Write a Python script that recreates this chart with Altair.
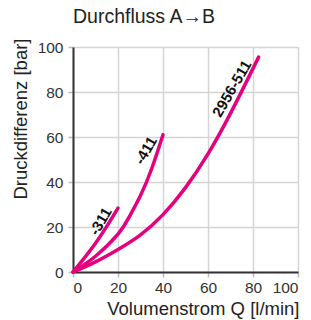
import altair as alt
import pandas as pd

# Series data
s311_x = [0, 5, 10, 15, 20]
s311_y = [0, 6.2, 12.8, 20.3, 28.4]
s411_x = [0, 10, 20, 25, 30, 35, 40]
s411_y = [0, 7, 16.8, 24.5, 34, 46, 61]
s2956_x = [0, 10, 20, 30, 40, 50, 60, 70, 82.5]
s2956_y = [0, 4.5, 10, 16.5, 25.5, 37.5, 52.5, 70.5, 95.5]

label_text = ["-311", "-411", "2956-511"]
label_x = [12.2, 32.3, 70.6]
label_y = [22.5, 54.0, 81.5]

ticks = [0, 20, 40, 60, 80, 100]

rows = []
for name, xs, ys in [("-311", s311_x, s311_y), ("-411", s411_x, s411_y), ("2956-511", s2956_x, s2956_y)]:
    for i, (xv, yv) in enumerate(zip(xs, ys)):
        rows.append({"series": name, "q": xv, "p": yv, "order": i})
df = pd.DataFrame(rows)
labels = pd.DataFrame({"text": label_text, "q": label_x, "p": label_y})

FONT = "Liberation Sans"
MAGENTA = "#E6007E"

xscale = alt.Scale(domain=[0, 100], nice=False)
yscale = alt.Scale(domain=[0, 100], nice=False)

xaxis = alt.Axis(values=ticks, title="Volumenstrom Q [l/min]", titleFontSize=18.5,
                 titleFont=FONT, titleFontWeight="normal", titleColor="#222",
                 titleAlign="right", titleAnchor="end", titleX=226, titleY=42,
                 titleBaseline="alphabetic",
                 labelFont=FONT, labelFontSize=15.5, labelColor="#333", labelPadding=3,
                 tickSize=5, tickColor="#bbb", tickWidth=1.5,
                 domainColor="#333", domainWidth=2,
                 gridColor="#d4d4d4", gridWidth=1.5)
yaxis = alt.Axis(values=ticks, title="Druckdifferenz [bar]", titleFontSize=18.5,
                 titleFont=FONT, titleFontWeight="normal", titleColor="#222",
                 titleAngle=270, titleAlign="right", titleX=-53, titleY=-9,
                 titleBaseline="middle",
                 labelFont=FONT, labelFontSize=15.5, labelColor="#333", labelPadding=5,
                 tickSize=5, tickColor="#bbb", tickWidth=1.5,
                 domainColor="#333", domainWidth=2,
                 gridColor="#d4d4d4", gridWidth=1.5)

lines = alt.Chart(df).mark_line(color=MAGENTA, strokeWidth=3.5, interpolate="natural",
                                 strokeCap="round").encode(
    x=alt.X("q:Q", scale=xscale, axis=xaxis),
    y=alt.Y("p:Q", scale=yscale, axis=yaxis),
    detail="series:N",
    order="order:Q",
)

texts = alt.Chart(labels).mark_text(font=FONT, fontWeight="bold", fontSize=15,
                                     angle=300, align="center", baseline="middle",
                                     color="#111").encode(
    x=alt.X("q:Q", scale=xscale),
    y=alt.Y("p:Q", scale=yscale),
    text="text:N",
)

chart = alt.layer(lines, texts).properties(
    width=225, height=225,
    title=alt.TitleParams("Durchfluss A\u2192B", anchor="start", frame="group",
                          font=FONT, fontSize=19.5, fontWeight="normal", color="#222",
                          offset=11),
    autosize=alt.AutoSizeParams(type="none"),
    padding={"left": 65, "top": 39, "right": 5, "bottom": 49},
).configure_view(stroke=None)

chart.save("out.html", embed_options={"renderer": "svg", "actions": False})
